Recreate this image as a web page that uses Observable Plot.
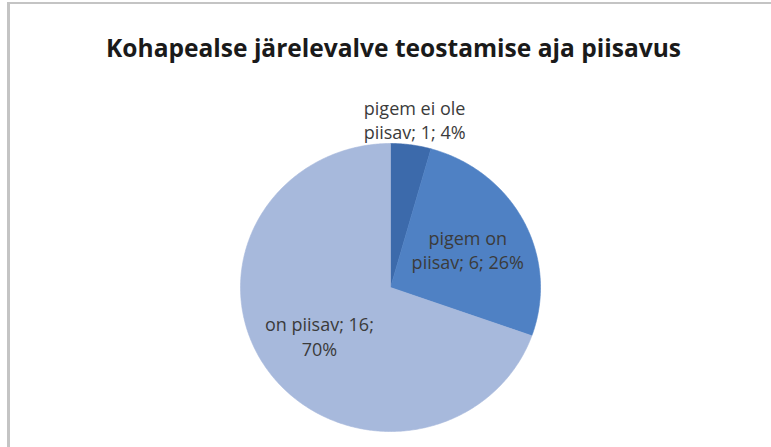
<!DOCTYPE html>
<html><head><meta charset="utf-8">
<script src="https://cdn.jsdelivr.net/npm/d3@7"></script>
<script src="https://cdn.jsdelivr.net/npm/@observablehq/plot@0.6"></script>
<style>
body{margin:0;background:#fff}
#wrap{position:relative;width:771px;height:447px;overflow:hidden}
#frame{position:absolute;left:7px;top:2px;right:-5px;bottom:-5px;border-top:2px solid #c4c4c4;border-left:3px solid #c4c4c4;pointer-events:none}
svg{display:block}
</style>
</head><body><div id="wrap"><div id="frame"></div></div>
<script>
const title = "Kohapealse järelevalve teostamise aja piisavus";
const categories = ["pigem ei ole piisav", "pigem on piisav", "on piisav"];
const values = [1, 6, 16];
const colors = ["#3c6aab", "#4f81c4", "#a7b9dc"];

const total = d3.sum(values);
const arcs = d3.pie().sort(null).value(d => d)(values);

// slice outlines (sampled along each arc) in unit-circle coordinates
const slicePts = [];
arcs.forEach((p, i) => {
  const n = Math.max(2, Math.ceil((p.endAngle - p.startAngle) / 0.01));
  slicePts.push({cat: categories[i], x: 0, y: 0});
  for (let k = 0; k <= n; k++) {
    const a = p.startAngle + (p.endAngle - p.startAngle) * k / n;
    slicePts.push({cat: categories[i], x: Math.sin(a), y: Math.cos(a)});
  }
  slicePts.push({cat: categories[i], x: 0, y: 0});
});

// data labels: "name; value; percent"
const labels = arcs.map((p, i) => {
  const mid = (p.startAngle + p.endAngle) / 2;
  const share = values[i] / total;
  const r = share < 0.1 ? 1.18 : 0.58;
  return {
    x: r * Math.sin(mid),
    y: r * Math.cos(mid),
    text: `${categories[i]}; ${values[i]}; ${Math.round(share * 100)}%`
  };
});

const chart = Plot.plot({
  width: 771,
  height: 447,
  marginLeft: 240,
  marginRight: 231,
  marginTop: 143,
  marginBottom: 16,
  x: {domain: [-1, 1], axis: null},
  y: {domain: [-1, 1], axis: null},
  color: {domain: categories, range: colors},
  style: {fontFamily: "'Open Sans', sans-serif", background: "transparent", overflow: "visible"},
  marks: [
    Plot.line(slicePts, {x: "x", y: "y", z: "cat", fill: "cat", stroke: "cat", strokeWidth: 0.6, curve: "linear"}),
    Plot.text(labels, {x: "x", y: "y", text: "text", lineWidth: 6.8, fontSize: 18, lineHeight: 1.35, fill: "#3b3b3b", textAnchor: "middle"}),
    Plot.text([title], {frameAnchor: "top", dx: 3, dy: -104, fontSize: 25, fontWeight: "bold", fill: "#1a1a1a", className: "ttl"})
  ]
});
const t = chart.querySelector(".ttl text");
if (t) { t.setAttribute("textLength", 575); t.setAttribute("lengthAdjust", "spacingAndGlyphs"); }
document.getElementById("wrap").prepend(chart);
</script>
</body></html>
